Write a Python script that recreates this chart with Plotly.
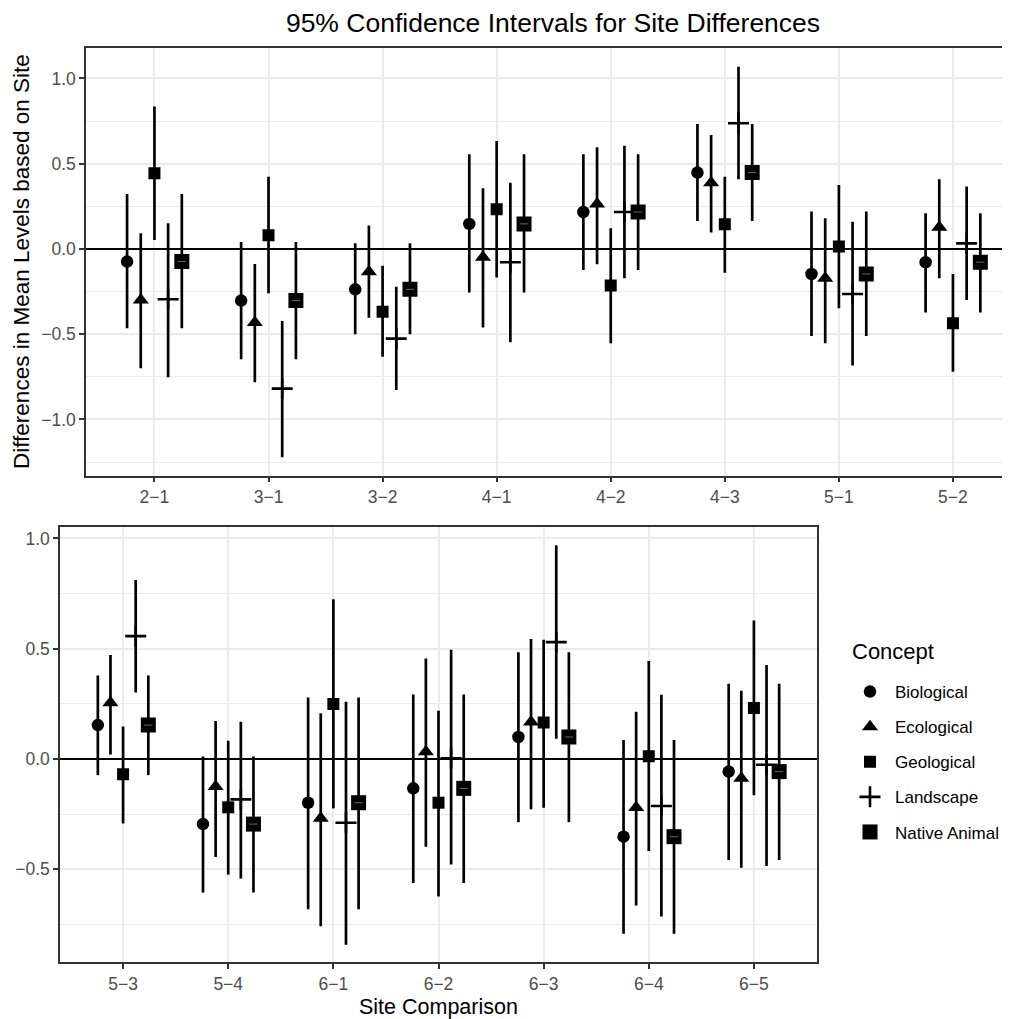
import plotly.graph_objects as go

# ---------------- data ----------------
comparisons = ["2−1", "3−1", "3−2", "4−1", "4−2", "4−3", "5−1", "5−2",
               "5−3", "5−4", "6−1", "6−2", "6−3", "6−4", "6−5"]
n_top = 8
top_labels = comparisons[:n_top]
bottom_labels = comparisons[n_top:]

concepts = ["Biological", "Ecological", "Geological", "Landscape", "Native Animal"]

bio_est = [-0.074, -0.303, -0.237, 0.147, 0.217, 0.448, -0.147, -0.078,
           0.154, -0.295, -0.198, -0.133, 0.100, -0.352, -0.057]
bio_lo = [-0.465, -0.647, -0.501, -0.256, -0.123, 0.164, -0.510, -0.373,
          -0.073, -0.605, -0.681, -0.562, -0.286, -0.792, -0.458]
bio_hi = [0.323, 0.041, 0.033, 0.555, 0.555, 0.733, 0.219, 0.209,
          0.378, 0.011, 0.279, 0.293, 0.484, 0.086, 0.341]

eco_est = [-0.300, -0.432, -0.133, -0.049, 0.264, 0.389, -0.172, 0.127,
           0.255, -0.125, -0.269, 0.033, 0.168, -0.220, -0.087]
eco_lo = [-0.700, -0.782, -0.403, -0.461, -0.090, 0.096, -0.553, -0.172,
          0.021, -0.444, -0.758, -0.398, -0.228, -0.664, -0.493]
eco_hi = [0.092, -0.088, 0.137, 0.356, 0.596, 0.669, 0.180, 0.409,
          0.471, 0.172, 0.207, 0.456, 0.544, 0.214, 0.309]

geo_est = [0.444, 0.080, -0.368, 0.233, -0.215, 0.145, 0.014, -0.436,
           -0.069, -0.219, 0.249, -0.198, 0.165, 0.012, 0.231]
geo_lo = [0.053, -0.260, -0.632, -0.168, -0.553, -0.139, -0.348, -0.720,
          -0.292, -0.524, -0.224, -0.623, -0.221, -0.417, -0.164]
geo_hi = [0.835, 0.424, -0.098, 0.633, 0.121, 0.424, 0.375, -0.147,
          0.147, 0.083, 0.724, 0.219, 0.541, 0.444, 0.628]

land_est = [-0.295, -0.819, -0.526, -0.078, 0.217, 0.737, -0.264, 0.033,
            0.557, -0.183, -0.289, 0.003, 0.530, -0.213, -0.026]
land_lo = [-0.753, -1.222, -0.827, -0.547, -0.172, 0.409, -0.684, -0.299,
           0.302, -0.542, -0.842, -0.478, 0.092, -0.714, -0.485]
land_hi = [0.151, -0.422, -0.221, 0.389, 0.606, 1.069, 0.160, 0.366,
           0.811, 0.169, 0.260, 0.495, 0.969, 0.291, 0.426]

nat_est = [-0.074, -0.303, -0.237, 0.147, 0.217, 0.448, -0.147, -0.078,
           0.154, -0.295, -0.198, -0.133, 0.100, -0.352, -0.057]
nat_lo = [-0.465, -0.647, -0.501, -0.256, -0.123, 0.164, -0.510, -0.373,
          -0.073, -0.605, -0.681, -0.562, -0.286, -0.792, -0.458]
nat_hi = [0.323, 0.041, 0.033, 0.555, 0.555, 0.733, 0.219, 0.209,
          0.378, 0.011, 0.279, 0.293, 0.484, 0.086, 0.341]

series = {
    "Biological": (bio_est, bio_lo, bio_hi),
    "Ecological": (eco_est, eco_lo, eco_hi),
    "Geological": (geo_est, geo_lo, geo_hi),
    "Landscape": (land_est, land_lo, land_hi),
    "Native Animal": (nat_est, nat_lo, nat_hi),
}

# ---------------- geometry / styles ----------------
# page body has an 8px margin: the figure is placed at (8, 8) in the window
OFF = 8
W, H = 1010 - OFF, 1019 - OFF
FONT = "Liberation Sans, Arial, Helvetica, sans-serif"
dodge = [-0.24, -0.12, 0.0, 0.12, 0.24]
symbols = {"Biological": "circle", "Ecological": "triangle-up", "Geological": "square",
           "Landscape": "cross-thin", "Native Animal": "square"}
sizes = {"Biological": 12.5, "Ecological": 14, "Geological": 12,
         "Landscape": 15, "Native Animal": 15}


def px_x(p):
    return (p - OFF) / W


def px_y(p):
    return 1 - (p - OFF) / H


fig = go.Figure()

for k, c in enumerate(concepts):
    est, lo, hi = series[c]
    for panel in (0, 1):
        if panel == 0:
            idx = range(0, n_top)
            xa, ya, base = "x", "y", 0
        else:
            idx = range(n_top, len(comparisons))
            xa, ya, base = "x2", "y2", n_top
        xs = [(i - base) + 1 + dodge[k] for i in idx]
        ys = [est[i] for i in idx]
        ep = [hi[i] - est[i] for i in idx]
        em = [est[i] - lo[i] for i in idx]
        marker = dict(symbol=symbols[c], size=sizes[c], color="black")
        if c == "Landscape":
            marker["line"] = dict(color="black", width=2.6)
        else:
            marker["line"] = dict(color="black", width=0)
        fig.add_trace(go.Scatter(
            x=xs, y=ys, mode="markers", name=c, legendgroup=c,
            showlegend=(panel == 0), xaxis=xa, yaxis=ya,
            marker=marker,
            error_y=dict(type="data", symmetric=False, array=ep, arrayminus=em,
                         color="black", thickness=2.7, width=0),
            hoverinfo="skip",
        ))
        if c == "Native Animal":
            fig.add_trace(go.Scatter(
                x=xs, y=ys, mode="markers", showlegend=False, legendgroup=c,
                xaxis=xa, yaxis=ya,
                marker=dict(symbol="line-ew", size=6, color="#666666",
                            line=dict(color="#666666", width=1)),
                hoverinfo="skip",
            ))

grid_major = "#EBEBEB"
border = "#333333"
tickfont = dict(family=FONT, size=17.5, color="#4D4D4D")


def fmt(v):
    s = f"{abs(v):.1f}"
    return ("−" + s) if v < 0 else s


top_y_ticks = [-1.0, -0.5, 0.0, 0.5, 1.0]
bot_y_ticks = [-0.5, 0.0, 0.5, 1.0]

common_x = dict(showgrid=True, gridcolor=grid_major, gridwidth=2, zeroline=False,
                showline=True, linecolor=border, linewidth=1.5, mirror=True,
                ticks="outside", ticklen=5, tickcolor=border, tickwidth=1.5,
                tickfont=tickfont, automargin=False, fixedrange=True)
common_y = dict(showgrid=True, gridcolor=grid_major, gridwidth=2,
                zeroline=True, zerolinecolor="black", zerolinewidth=2.3,
                showline=True, linecolor=border, linewidth=1.5,
                ticks="outside", ticklen=5, tickcolor=border, tickwidth=1.5,
                tickfont=tickfont, automargin=False, fixedrange=True)

fig.update_layout(
    width=W, height=H,
    margin=dict(l=0, r=0, t=0, b=0, autoexpand=False),
    paper_bgcolor="white", plot_bgcolor="white",
    font=dict(family=FONT, color="black"),
    title=dict(text="95% Confidence Intervals for Site Differences",
               x=px_x(553), y=px_y(23), xanchor="center", yanchor="middle",
               xref="paper", yref="paper",
               font=dict(family=FONT, size=26.5, color="black")),
    xaxis=dict(common_x, domain=[px_x(86), 1.0], range=[0.4, 8.5],
               tickvals=list(range(1, n_top + 1)), ticktext=top_labels, anchor="y"),
    yaxis=dict(common_y, domain=[px_y(475.7), px_y(48.3)], range=[-1.33, 1.177],
               tickvals=top_y_ticks, ticktext=[fmt(v) for v in top_y_ticks],
               mirror=False, anchor="x",
               minor=dict(tickvals=[-1.25, -0.75, -0.25, 0.25, 0.75], showgrid=True,
                          gridcolor=grid_major, gridwidth=1.1)),
    xaxis2=dict(common_x, domain=[px_x(60), px_x(817)], range=[0.4, 7.6],
                tickvals=list(range(1, len(bottom_labels) + 1)), ticktext=bottom_labels,
                anchor="y2"),
    yaxis2=dict(common_y, domain=[px_y(962), px_y(526.7)], range=[-0.92, 1.053],
                tickvals=bot_y_ticks, ticktext=[fmt(v) for v in bot_y_ticks],
                mirror=True, anchor="x2",
                minor=dict(tickvals=[-0.75, -0.25, 0.25, 0.75], showgrid=True,
                           gridcolor=grid_major, gridwidth=1.1)),
    legend=dict(x=px_x(845), y=px_y(674), xanchor="left", yanchor="top",
                font=dict(family=FONT, size=17, color="black"),
                bgcolor="rgba(0,0,0,0)", tracegroupgap=10, itemsizing="trace",
                itemwidth=40),
    showlegend=True,
)

# legend title and axis titles
fig.add_annotation(text="Concept", xref="paper", yref="paper",
                   x=px_x(850), y=px_y(651), showarrow=False,
                   xanchor="left", yanchor="middle",
                   font=dict(family=FONT, size=22, color="black"))
fig.add_annotation(text="Differences in Mean Levels based on Site", xref="paper", yref="paper",
                   x=px_x(22), y=px_y(262), textangle=-90, showarrow=False,
                   xanchor="center", yanchor="middle",
                   font=dict(family=FONT, size=22.5, color="black"))
fig.add_annotation(text="Site Comparison", xref="paper", yref="paper",
                   x=px_x(438), y=px_y(1006.5), showarrow=False,
                   xanchor="center", yanchor="middle",
                   font=dict(family=FONT, size=21.5, color="black"))

fig.write_html("out.html")
